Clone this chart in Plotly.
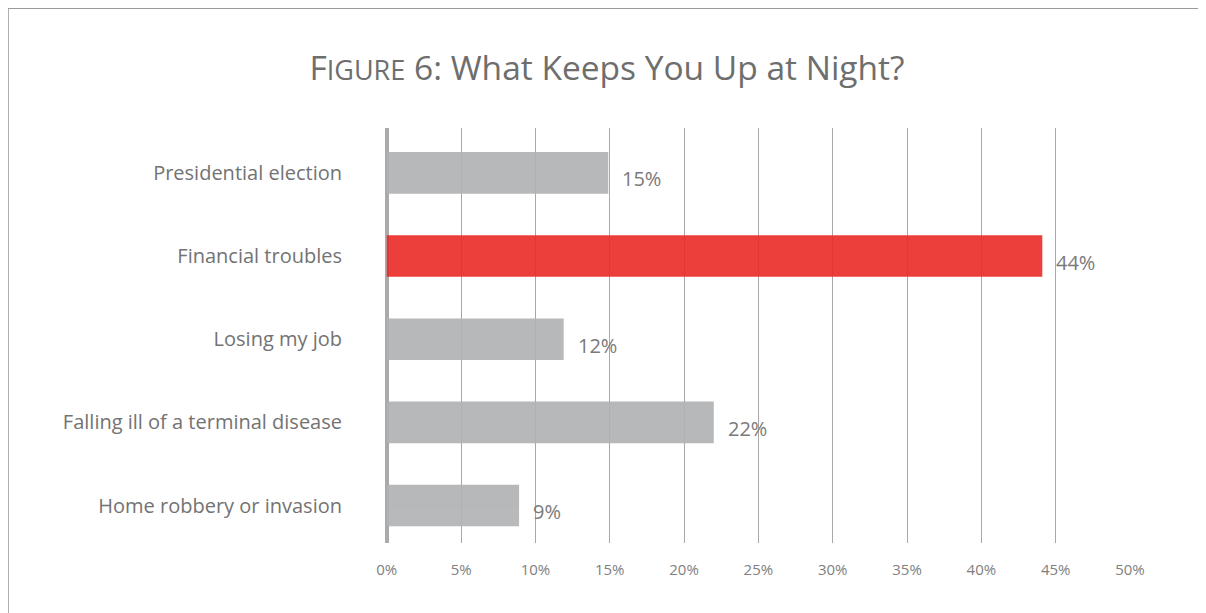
import plotly.graph_objects as go

# data
categories = ["Presidential election", "Financial troubles", "Losing my job",
              "Falling ill of a terminal disease", "Home robbery or invasion"]
values = [14.9, 44.1, 11.9, 22.0, 8.9]
value_labels = ["15%", "44%", "12%", "22%", "9%"]
highlight = "Financial troubles"
tick_vals = [0, 5, 10, 15, 20, 25, 30, 35, 40, 45, 50]
tick_text = [f"{v}%" for v in tick_vals]

GREY = "#b0b1b3"
RED = "#ea2a26"
TEXT = "#737373"
FONT = "'Open Sans', Lato, sans-serif"

colors = [RED if c == highlight else GREY for c in categories]

fig = go.Figure()
fig.add_trace(go.Bar(
    x=values,
    y=categories,
    orientation="h",
    marker=dict(color=colors, line=dict(width=0)),
    opacity=0.9,
    width=0.5,
    hoverinfo="skip",
))

# value labels sit right of the bar end, a bit below centre
for c, v, lab in zip(categories, values, value_labels):
    fig.add_annotation(
        x=v, y=c, text=lab, showarrow=False,
        xanchor="left", xshift=12, yshift=-6,
        font=dict(size=20, color="#7a7a7a", family=FONT),
    )

# outer frame (top and left edges of the boxed figure)
fig.add_shape(type="line", xref="paper", yref="paper",
              x0=-0.506, x1=1.2, y0=1.2885, y1=1.2885,
              line=dict(color="#9a9a9a", width=1.5))
fig.add_shape(type="line", xref="paper", yref="paper",
              x0=-0.506, x1=-0.506, y0=-0.2, y1=1.2885,
              line=dict(color="#9a9a9a", width=1.5))

fig.update_layout(
    width=1198, height=605,
    margin=dict(l=377, r=76, t=120, b=70),
    paper_bgcolor="white",
    plot_bgcolor="white",
    showlegend=False,
    bargap=0.5,
    title=dict(
        text="F<span style='font-size:27px'>IGURE</span> 6: What Keeps You Up at Night?",
        x=0.5, xref="container", xanchor="center",
        y=0.9, yref="container", yanchor="middle",
        font=dict(size=33.5, color="#6e6e6e", family=FONT),
    ),
    xaxis=dict(
        range=[-0.12, 50],
        tickvals=tick_vals,
        ticktext=tick_text,
        showgrid=True,
        gridcolor="#a8a8a8",
        gridwidth=1,
        zeroline=True,
        zerolinecolor="#aaaaaa",
        zerolinewidth=4,
        showline=False,
        ticks="",
        ticklabelstandoff=16,
        tickfont=dict(size=15, color="#808080", family=FONT),
        fixedrange=True,
    ),
    yaxis=dict(
        categoryorder="array",
        categoryarray=categories,
        range=[4.45, -0.54],
        showgrid=False,
        zeroline=False,
        showline=False,
        ticks="",
        ticklabelstandoff=42,
        tickfont=dict(size=20, color=TEXT, family=FONT),
        fixedrange=True,
    ),
)

fig.write_html("out.html")
